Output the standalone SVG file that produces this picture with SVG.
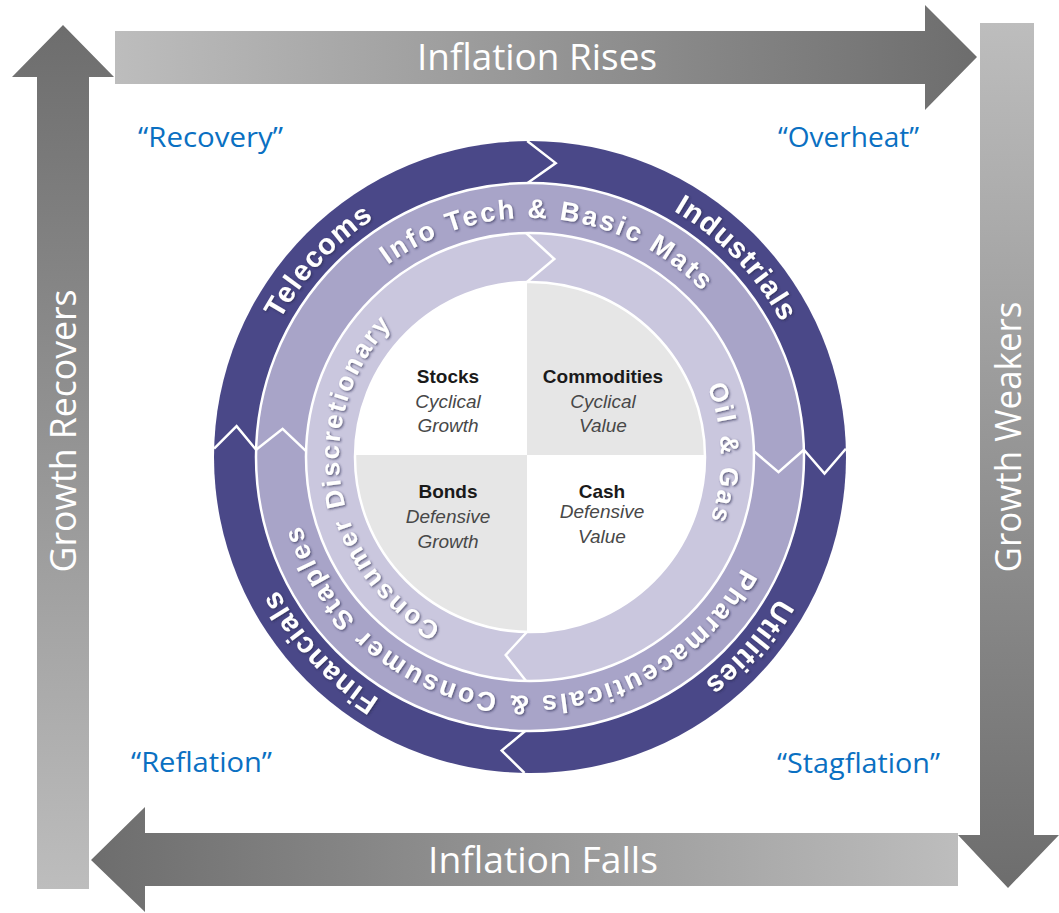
<svg xmlns="http://www.w3.org/2000/svg" xmlns:xlink="http://www.w3.org/1999/xlink" width="1059" height="913" viewBox="0 0 1059 913">
  <defs>
    <linearGradient id="gRight" x1="0" y1="0" x2="1" y2="0">
      <stop offset="0" stop-color="#bdbdbd"/>
      <stop offset="1" stop-color="#6d6d6d"/>
    </linearGradient>
    <linearGradient id="gLeft" x1="1" y1="0" x2="0" y2="0">
      <stop offset="0" stop-color="#bdbdbd"/>
      <stop offset="1" stop-color="#6d6d6d"/>
    </linearGradient>
    <linearGradient id="gDown" x1="0" y1="0" x2="0" y2="1">
      <stop offset="0" stop-color="#bdbdbd"/>
      <stop offset="1" stop-color="#6d6d6d"/>
    </linearGradient>
    <linearGradient id="gUp" x1="0" y1="1" x2="0" y2="0">
      <stop offset="0" stop-color="#bdbdbd"/>
      <stop offset="1" stop-color="#6d6d6d"/>
    </linearGradient>
    <filter id="emboss" x="-10%" y="-10%" width="120%" height="120%">
      <feDropShadow dx="1.2" dy="1.2" stdDeviation="1" flood-color="#2a2850" flood-opacity="0.7"/>
    </filter>
    <clipPath id="disc">
      <circle cx="530" cy="457" r="175"/>
    </clipPath>
    <!-- baseline circles for ring labels, drawn clockwise -->
    <path id="pOuter" d="M245,457 A285,285 0 1 1 815,457 A285,285 0 1 1 245,457"/>
    <path id="pMid" d="M291,457 A239,239 0 1 1 769,457 A239,239 0 1 1 291,457"/>
    <path id="pInner" d="M530,648 A191,191 0 1 1 530,266 A191,191 0 1 1 530,648"/>
  </defs>
  <style>
    .arrowLbl { font-family: "Open Sans", "Liberation Sans", sans-serif; font-size: 36px; fill: #ffffff; }
    .phase { font-family: "Open Sans", "Liberation Sans", sans-serif; font-size: 27px; fill: #0a70c2; }
    .ring { font-family: "Liberation Sans", Arial, sans-serif; font-weight: bold; fill: #ffffff; filter: url(#emboss); }
    .outerT { font-size: 29px; letter-spacing: 1px; }
    .midT { font-size: 27px; letter-spacing: 2.4px; }
    .innerT { font-size: 26px; letter-spacing: 2.4px; }
    .sep { fill: none; stroke: #ffffff; stroke-width: 2.5; }
    .chev { fill: none; stroke: #ffffff; stroke-width: 2.5; stroke-linejoin: miter; }
    .asset { font-family: "Liberation Sans", Arial, sans-serif; font-size: 19px; font-weight: bold; fill: #1a1a1a; text-anchor: middle; }
    .style { font-family: "Liberation Sans", Arial, sans-serif; font-size: 19px; font-style: italic; fill: #484848; text-anchor: middle; }
  </style>

  <rect width="1059" height="913" fill="#ffffff"/>

  <!-- big cycle arrows -->
  <g id="connectors">
    <g id="arrow-inflation-rises">
      <polygon points="115,31 925,31 925,5 977,57 925,110 925,84 115,84" fill="url(#gRight)"/>
      <text class="arrowLbl" x="537" y="70" text-anchor="middle" textLength="240" lengthAdjust="spacingAndGlyphs">Inflation Rises</text>
    </g>
    <g id="arrow-growth-weakens">
      <polygon points="980,23 1034,23 1034,835 1059,835 1008,888 958,835 980,835" fill="url(#gDown)"/>
      <text class="arrowLbl" transform="translate(1021,437) rotate(-90)" x="0" y="0" text-anchor="middle" textLength="271" lengthAdjust="spacingAndGlyphs">Growth Weakers</text>
    </g>
    <g id="arrow-inflation-falls">
      <polygon points="958,833 958,886 145,886 145,912 91,860 145,807 145,833" fill="url(#gLeft)"/>
      <text class="arrowLbl" x="543" y="873" text-anchor="middle" textLength="230" lengthAdjust="spacingAndGlyphs">Inflation Falls</text>
    </g>
    <g id="arrow-growth-recovers">
      <polygon points="37,889 37,77 12,77 63,25 114,77 89,77 89,889" fill="url(#gUp)"/>
      <text class="arrowLbl" transform="translate(76,431) rotate(-90)" x="0" y="0" text-anchor="middle" textLength="283" lengthAdjust="spacingAndGlyphs">Growth Recovers</text>
    </g>
  </g>

  <!-- phase names in the corners -->
  <g id="phase-recovery"><text class="phase" x="138" y="147" textLength="145" lengthAdjust="spacingAndGlyphs">“Recovery”</text></g>
  <g id="phase-overheat"><text class="phase" x="778" y="147" textLength="141" lengthAdjust="spacingAndGlyphs">“Overheat”</text></g>
  <g id="phase-reflation"><text class="phase" x="131" y="772" textLength="141" lengthAdjust="spacingAndGlyphs">“Reflation”</text></g>
  <g id="phase-stagflation"><text class="phase" x="777" y="773" textLength="163" lengthAdjust="spacingAndGlyphs">“Stagflation”</text></g>

  <!-- sector wheel -->
  <g id="wheel">
    <circle cx="530" cy="457" r="316" fill="#4a4888"/>
    <circle cx="530" cy="457" r="274" fill="#a8a4c8"/>
    <circle cx="530" cy="457" r="224" fill="#cac7de"/>
    <circle class="sep" cx="530" cy="457" r="274"/>
    <circle class="sep" cx="530" cy="457" r="224"/>

    <!-- segment joins, each pointing clockwise -->
    <polyline class="chev" points="527.2,141 555.7,163.1 527.6,183"/>
    <polyline class="chev" points="845.9,448.7 824.5,473.5 803.9,449.8"/>
    <polyline class="chev" points="524.5,773 501.7,750.6 525.2,731"/>
    <polyline class="chev" points="214.1,448.7 236.6,426.2 256.1,449.8"/>
    <polyline class="chev" points="803.9,449.8 778.5,472.2 753.9,451.1"/>
    <polyline class="chev" points="256.1,449.8 282.6,428.8 306.1,451.1"/>
    <polyline class="chev" points="526.1,233 554.3,259 526.9,282"/>
    <polyline class="chev" points="526.1,681 505.7,655 526.9,632"/>
  </g>

  <g id="sector-telecoms"><text class="ring outerT"><textPath href="#pOuter" startOffset="11.9%" text-anchor="middle">Telecoms</textPath></text></g>
  <g id="sector-industrials"><text class="ring outerT"><textPath href="#pOuter" startOffset="37.8%" text-anchor="middle">Industrials</textPath></text></g>
  <g id="sector-utilities"><text class="ring outerT"><textPath href="#pOuter" startOffset="61.4%" text-anchor="middle">Utilities</textPath></text></g>
  <g id="sector-financials"><text class="ring outerT"><textPath href="#pOuter" startOffset="88.1%" text-anchor="middle">Financials</textPath></text></g>
  <g id="sector-infotech"><text class="ring midT"><textPath href="#pMid" startOffset="26.4%" text-anchor="middle">Info Tech &amp; Basic Mats</textPath></text></g>
  <g id="sector-pharma"><text class="ring midT"><textPath href="#pMid" startOffset="76.6%" text-anchor="middle">Pharmaceuticals &amp; Consumer Staples</textPath></text></g>
  <g id="sector-discretionary"><text class="ring innerT"><textPath href="#pInner" startOffset="22.5%" text-anchor="middle">Consumer Discretionary</textPath></text></g>
  <g id="sector-oilgas"><text class="ring innerT"><textPath href="#pInner" startOffset="74.7%" text-anchor="middle">Oil &amp; Gas</textPath></text></g>

  <!-- asset class quadrants -->
  <g id="quadrants">
    <circle cx="530" cy="457" r="175" fill="#ffffff"/>
    <g clip-path="url(#disc)">
      <rect x="527" y="270" width="200" height="185" fill="#e6e6e6"/>
      <rect x="340" y="455" width="187" height="190" fill="#e6e6e6"/>
    </g>
    <circle class="sep" cx="530" cy="457" r="175"/>
  </g>
  <g id="q-stocks">
    <text class="asset" x="448" y="383">Stocks</text>
    <text class="style" x="448" y="408">Cyclical</text>
    <text class="style" x="448" y="432">Growth</text>
  </g>
  <g id="q-commodities">
    <text class="asset" x="603" y="383">Commodities</text>
    <text class="style" x="603" y="408">Cyclical</text>
    <text class="style" x="603" y="432">Value</text>
  </g>
  <g id="q-bonds">
    <text class="asset" x="448" y="498">Bonds</text>
    <text class="style" x="448" y="523">Defensive</text>
    <text class="style" x="448" y="548">Growth</text>
  </g>
  <g id="q-cash">
    <text class="asset" x="602" y="498">Cash</text>
    <text class="style" x="602" y="518">Defensive</text>
    <text class="style" x="602" y="543">Value</text>
  </g>
</svg>
